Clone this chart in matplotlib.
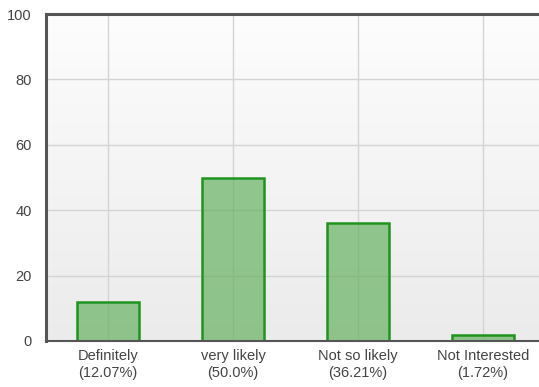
import numpy as np
import matplotlib
matplotlib.use("Agg")
import matplotlib.pyplot as plt
from matplotlib.colors import LinearSegmentedColormap

categories = ["Definitely", "very likely", "Not so likely", "Not Interested"]
percent_labels = ["12.07%", "50.0%", "36.21%", "1.72%"]
values = [12.07, 50.0, 36.21, 1.72]
y_ticks = [0, 20, 40, 60, 80, 100]

plt.rcParams["font.family"] = ["Liberation Sans", "DejaVu Sans"]

fig = plt.figure(figsize=(5.39, 3.87), dpi=100)
ax = fig.add_axes([45.5 / 539, 46 / 387, 500 / 539, 327 / 387])

x = np.arange(len(categories))
ax.set_xlim(-0.5, len(categories) - 0.5)
ax.set_ylim(0, 100)

# vertical gradient background
grad = np.linspace(0, 1, 256).reshape(-1, 1)
cmap = LinearSegmentedColormap.from_list("bg", ["#ebebeb", "#fdfdfd"])
ax.imshow(grad, aspect="auto", cmap=cmap, origin="lower",
          extent=[-0.5, len(categories) - 0.5, 0, 100], zorder=0)

ax.set_yticks(y_ticks)
ax.set_xticks(x)
ax.set_xticklabels([f"{c}\n({p})" for c, p in zip(categories, percent_labels)])
ax.grid(True, color="#d4d4d4", linewidth=1.0)
ax.set_axisbelow(True)

# semi-transparent bars so the grid shows through
ax.bar(x, values, width=0.5, color=(0.36, 0.68, 0.34, 0.65),
       edgecolor="#1f931f", linewidth=1.8, zorder=3)

for side in ["left", "top"]:
    ax.spines[side].set_color("#555555")
    ax.spines[side].set_linewidth(2.2)
ax.spines["bottom"].set_color("#555555")
ax.spines["bottom"].set_linewidth(1.5)
ax.spines["right"].set_visible(False)
for s in ax.spines.values():
    s.set_zorder(5)

ax.tick_params(axis="both", length=0, labelsize=10.5, colors="#444444")
ax.tick_params(axis="y", pad=10)
ax.tick_params(axis="x", pad=6)
for lbl in ax.get_xticklabels():
    lbl.set_linespacing(1.2)

fig.savefig("out.png", dpi=100)
